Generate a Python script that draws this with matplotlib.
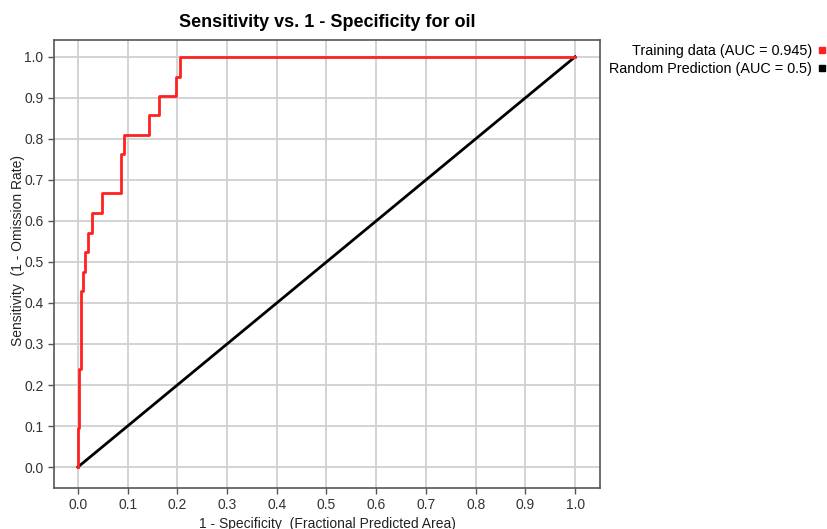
import matplotlib
matplotlib.use("Agg")
import matplotlib.pyplot as plt
from matplotlib.lines import Line2D

# ROC points for the training data (vertices, drawn with steps-pre)
train_fpr = [0.0, 0.002, 0.006, 0.010, 0.014, 0.020, 0.028, 0.048, 0.087, 0.093,
             0.143, 0.163, 0.197, 0.205, 1.0]
train_tpr = [0.0, 0.095, 0.238, 0.429, 0.476, 0.524, 0.571, 0.619, 0.667, 0.762,
             0.810, 0.857, 0.905, 0.952, 1.0]

# random prediction line
rand_x = [0.0, 1.0]
rand_y = [0.0, 1.0]

ticks = [0.0, 0.1, 0.2, 0.3, 0.4, 0.5, 0.6, 0.7, 0.8, 0.9, 1.0]
labels = ["Training data (AUC = 0.945)", "Random Prediction (AUC = 0.5)"]

plt.rcParams['font.family'] = ['Liberation Sans', 'DejaVu Sans']

fig = plt.figure(figsize=(8.27, 5.29), dpi=100)
ax = fig.add_axes([0.0653, 0.0775, 0.6602, 0.8469])

ax.plot(rand_x, rand_y, color='black', linewidth=2, zorder=3)
ax.plot(train_fpr, train_tpr, color='#ff2020', linewidth=2, drawstyle='steps-pre', zorder=4)

ax.set_xlim(-0.048, 1.05)
ax.set_ylim(-0.051, 1.041)
ax.set_xticks(ticks)
ax.set_yticks(ticks)
ax.set_xticklabels(["%.1f" % t for t in ticks])
ax.set_yticklabels(["%.1f" % t for t in ticks])
ax.grid(True, color='#d0d0d0', linewidth=1.3)
ax.set_axisbelow(True)
ax.tick_params(direction='out', length=4, width=1, colors='#555555',
               labelsize=10, labelcolor='#333333')
for sp in ax.spines.values():
    sp.set_color('#555555')
    sp.set_linewidth(1.2)

ax.set_title("Sensitivity vs. 1 - Specificity for oil", fontsize=13,
             fontweight='bold', pad=9)
ax.set_xlabel("1 - Specificity  (Fractional Predicted Area)", fontsize=10,
              color='#222222', labelpad=3)
ax.set_ylabel("Sensitivity  (1 - Omission Rate)", fontsize=10,
              color='#222222')
ax.yaxis.set_label_coords(-0.054, 0.531)

handles = [Line2D([], [], marker='s', color='#ff2020', linestyle='none', markersize=5),
           Line2D([], [], marker='s', color='black', linestyle='none', markersize=5)]
fig.legend(handles, labels, loc='upper right', bbox_to_anchor=(1.008, 0.93),
           markerfirst=False, frameon=False, fontsize=10.4, handlelength=0.6,
           handletextpad=0.4, labelspacing=0.25, borderaxespad=0.1)

fig.savefig("out.png", dpi=100)
